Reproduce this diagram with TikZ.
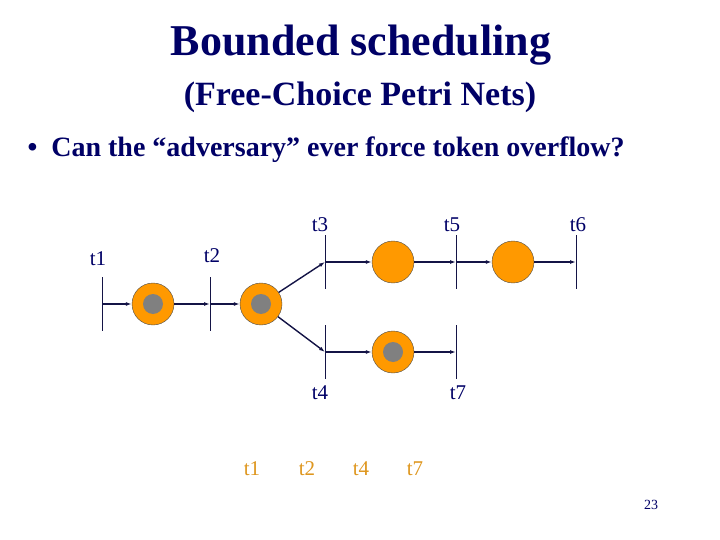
\documentclass[tikz,border=0pt]{standalone}
\usepackage{fontspec}
\setmainfont{Liberation Serif}
\usetikzlibrary{arrows.meta}
\definecolor{navy}{RGB}{0,0,102}
\definecolor{arcc}{RGB}{20,20,70}
\definecolor{plc}{RGB}{255,153,0}
\definecolor{seqc}{RGB}{222,150,30}
\begin{document}
\begin{tikzpicture}[x=1pt,y=-1pt,
  place/.style={circle,draw=black!70,fill=plc,minimum size=42pt,inner sep=0pt},
  tok/.style={circle,fill=gray,minimum size=20pt,inner sep=0pt},
  bar/.style={draw=arcc,line width=0.8pt},
  arc/.style={draw=arcc,line width=1.4pt,-{Latex[length=6pt,width=4pt]}},
  lab/.style={text=navy,font=\fontsize{21}{21}\selectfont},
  seq/.style={text=seqc,font=\fontsize{21}{21}\selectfont}]
\useasboundingbox (0,0) rectangle (720,540);
\node[text=navy,font=\bfseries\fontsize{44}{44}\selectfont] (title) at (361,45) {Bounded scheduling};
\node[text=navy,font=\bfseries\fontsize{34}{34}\selectfont] (sub) at (360,97) {(Free-Choice Petri Nets)};
\node[text=navy,font=\bfseries\fontsize{28}{28}\selectfont,anchor=west] (bul) at (24,150) {•\ \ Can the “adversary” ever force token overflow?};
% transitions
\foreach \n/\x/\y in {t1/102/304,t2/210/304,t3/325/262,t5/456/262,t6/576/262,t4/325/352,t7/456/352}{
  \coordinate (\n) at (\x,\y);
  \draw[bar] (\x,\y-27) -- (\x,\y+27);
}
\node[place] (p1) at (153,304) {}; \node[tok] (k1) at (p1) {};
\node[place] (p2) at (261,304) {}; \node[tok] (k2) at (p2) {};
\node[place] (p3) at (393,262) {};
\node[place] (p4) at (513,262) {};
\node[place] (p5) at (393,352) {}; \node[tok] (k5) at (p5) {};
\draw[arc] (t1) -- (p1);
\draw[arc] (p1) -- (t2);
\draw[arc] (t2) -- (p2);
\draw[arc] (p2) -- (t3);
\draw[arc] (p2) -- (t4);
\draw[arc] (t3) -- (p3);
\draw[arc] (p3) -- (t5);
\draw[arc] (t5) -- (p4);
\draw[arc] (p4) -- (t6);
\draw[arc] (t4) -- (p5);
\draw[arc] (p5) -- (t7);
\node[lab] (l1) at (98,259) {t1};
\node[lab] (l2) at (212,256) {t2};
\node[lab] (l3) at (320,225) {t3};
\node[lab] (l5) at (452,225) {t5};
\node[lab] (l6) at (578,225) {t6};
\node[lab] (l4) at (320,393) {t4};
\node[lab] (l7) at (458,393) {t7};
\node[seq] (s1) at (252,469) {t1};
\node[seq] (s2) at (307,469) {t2};
\node[seq] (s4) at (361,469) {t4};
\node[seq] (s7) at (415,469) {t7};
\node[text=navy,font=\fontsize{14}{14}\selectfont] (pg) at (651,505) {23};
\end{tikzpicture}
\end{document}
